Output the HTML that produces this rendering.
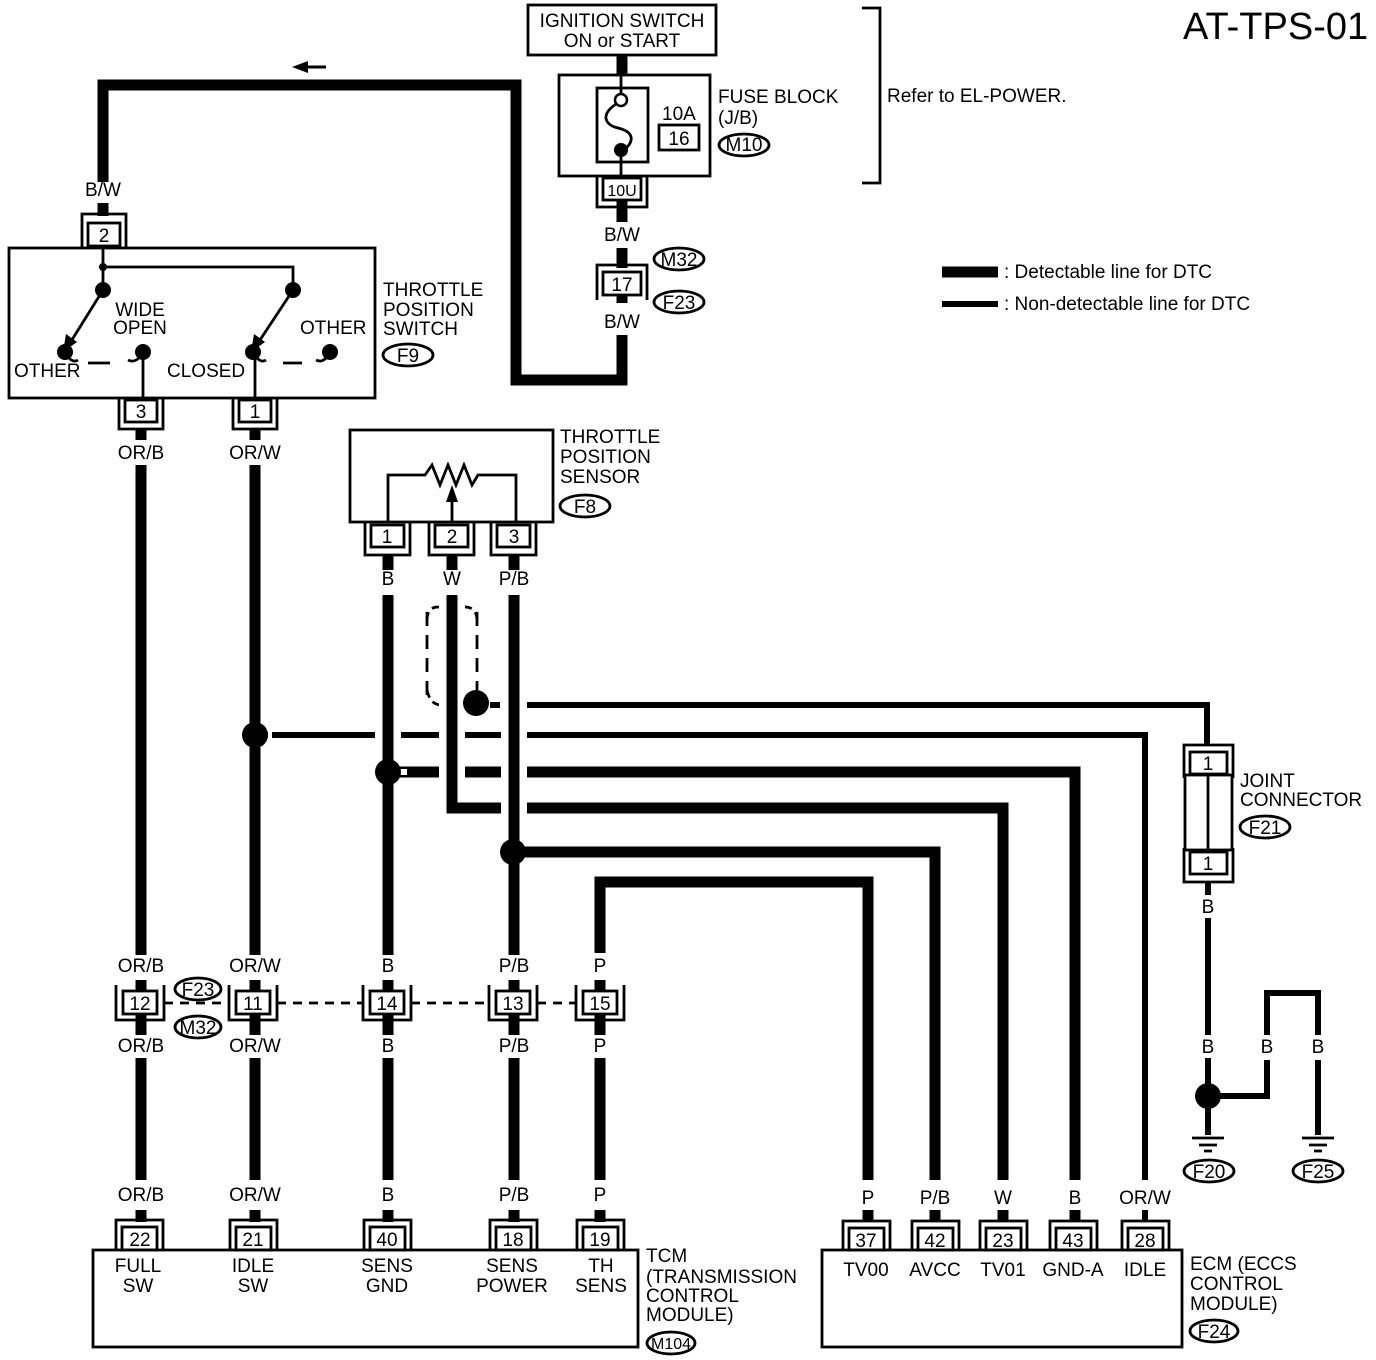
<!DOCTYPE html>
<html><head><meta charset="utf-8"><style>
html,body{margin:0;padding:0;background:#fff}
svg{display:block}
text{font-family:"Liberation Sans",sans-serif;font-size:19px;fill:#000}
.c{text-anchor:middle}
</style></head><body>
<svg width="1376" height="1360" viewBox="0 0 1376 1360" xmlns="http://www.w3.org/2000/svg">
<g fill="none" stroke="#000" stroke-width="2.8">
<rect x="528" y="5" width="188" height="50"/>
<rect x="559" y="75" width="151" height="101"/>
<rect x="597" y="88" width="51" height="74"/>
<line x1="621" y1="75" x2="621" y2="94"/><line x1="621" y1="156" x2="621" y2="176"/>
<path d="M616,104 C600,115 605,125 618,128 C635,132 634,142 624,150"/>
<rect x="659" y="125" width="40" height="25"/>
<path d="M862,8 H880 V183 H862"/>
<rect x="603" y="178" width="38" height="22"/>
<path d="M597,176 V207 H647 V176"/>
<rect x="603" y="272" width="38" height="23"/>
<path d="M597,300 V265 H647 V300"/>
<ellipse cx="679" cy="259" rx="25" ry="11"/><ellipse cx="679" cy="302" rx="25" ry="11"/>
<ellipse cx="744" cy="145" rx="25" ry="11"/>
<rect x="9" y="248" width="366" height="150"/>
<rect x="88" y="223" width="32" height="23"/>
<path d="M82,248 V214 H126 V248"/>
<path d="M103,246 V290 M103,267 H293 V290"/>
<path d="M143,352 V398 M255,352 V398"/>
<path d="M88,363 H110 M283,363 H302"/>
<path d="M143,352 C138,362 132,362 128,360 M330,352 C325,362 320,362 316,360 M65,352 C70,362 75,362 78,360 M253,352 C258,362 263,362 266,360"/>
<line x1="103" y1="290" x2="70" y2="343"/><line x1="293" y1="290" x2="258" y2="343"/>
<rect x="125" y="400" width="32" height="22"/><path d="M119,398 V429 H163 V398"/>
<rect x="239" y="400" width="32" height="22"/><path d="M233,398 V429 H277 V398"/>
<ellipse cx="408" cy="355" rx="25" ry="11"/>
<rect x="350" y="430" width="203" height="92"/>
<path d="M388,522 V475 H425 L432,465 L440,485 L448,465 L456,485 L464,465 L472,485 L478,475 H516 V522"/>
<line x1="452" y1="522" x2="452" y2="492"/>
<rect x="371" y="525" width="33" height="22"/><path d="M365,523 V555 H410 V523"/>
<rect x="435" y="525" width="33" height="22"/><path d="M429,523 V555 H474 V523"/>
<rect x="497" y="525" width="33" height="22"/><path d="M491,523 V555 H536 V523"/>
<ellipse cx="585" cy="506" rx="25" ry="11"/>
<path d="M427,612 V700 M477,612 V690" stroke-dasharray="14,9"/>
<path d="M427,620 C427,605 440,605 445,610 M477,620 C477,605 462,605 457,610 M427,690 C430,705 440,707 446,703" stroke-dasharray="8,5"/>
<rect x="123" y="991" width="34" height="23"/><path d="M116,985 V1020 H164 V985"/>
<rect x="236" y="991" width="34" height="23"/><path d="M229,985 V1020 H277 V985"/>
<rect x="370" y="991" width="34" height="23"/><path d="M363,985 V1020 H411 V985"/>
<rect x="496" y="991" width="34" height="23"/><path d="M489,985 V1020 H537 V985"/>
<rect x="583" y="991" width="34" height="23"/><path d="M576,985 V1020 H624 V985"/>
<path d="M164,1003 H229 M277,1003 H363 M411,1003 H489 M537,1003 H576" stroke-dasharray="9,7"/>
<ellipse cx="198" cy="989" rx="23" ry="11"/><ellipse cx="198" cy="1027" rx="23" ry="11"/>
<rect x="93" y="1250" width="545" height="97"/>
<rect x="122" y="1227" width="35" height="23"/><path d="M116,1250 V1220 H163 V1250"/>
<rect x="236" y="1227" width="35" height="23"/><path d="M230,1250 V1220 H277 V1250"/>
<rect x="370" y="1227" width="35" height="23"/><path d="M364,1250 V1220 H411 V1250"/>
<rect x="496" y="1227" width="35" height="23"/><path d="M490,1250 V1220 H537 V1250"/>
<rect x="583" y="1227" width="35" height="23"/><path d="M577,1250 V1220 H624 V1250"/>
<ellipse cx="671" cy="1343" rx="24" ry="11"/>
<rect x="822" y="1250" width="360" height="97"/>
<rect x="849" y="1228" width="35" height="22"/><path d="M843,1250 V1221 H890 V1250"/>
<rect x="918" y="1228" width="35" height="22"/><path d="M912,1250 V1221 H959 V1250"/>
<rect x="986" y="1228" width="35" height="22"/><path d="M980,1250 V1221 H1027 V1250"/>
<rect x="1056" y="1228" width="35" height="22"/><path d="M1050,1250 V1221 H1097 V1250"/>
<rect x="1128" y="1228" width="35" height="22"/><path d="M1122,1250 V1221 H1169 V1250"/>
<ellipse cx="1214" cy="1331" rx="24" ry="11"/>
<rect x="1190" y="752" width="37" height="22"/><path d="M1184,778 V745 H1233 V778"/>
<rect x="1185" y="775" width="47" height="75"/><line x1="1208" y1="775" x2="1208" y2="850"/>
<rect x="1190" y="852" width="37" height="22"/><path d="M1184,848 V882 H1233 V848"/>
<ellipse cx="1265" cy="827" rx="25" ry="11"/>
<ellipse cx="1209" cy="1171" rx="25" ry="11"/><ellipse cx="1318" cy="1171" rx="25" ry="11"/>
<path d="M1192,1138 H1224 M1199,1145 H1217 M1204,1151 H1212 M1302,1138 H1334 M1309,1145 H1327 M1314,1151 H1322"/>
</g>
<g fill="none" stroke="#000" stroke-width="11">
<path d="M622,55 V75 M622,200 V222 M622,248 V268 M622,296 V303"/>
<path d="M622,335 V380 H516 V85 H103 V182 M103,203 V216"/>
<path d="M141,429 V440 M141,465 V955 M141,1014 V1035 M141,1058 V1180 M141,1210 V1222"/>
<path d="M255,429 V440 M255,465 V955 M255,1014 V1035 M255,1058 V1180 M255,1210 V1222"/>
<path d="M388,555 V570 M452,555 V570 M514,555 V570"/>
<path d="M388,772 H1075 V1180 M1075,1210 V1222"/>
<path d="M452,595 V808 H1003 V1180 M1003,1210 V1222"/>
<path d="M513,852 H935 V1180 M935,1210 V1222"/>
<path d="M600,953 V882 H868 V1180 M868,1210 V1222"/>
<path d="M942,272 H998"/>
</g>
<g fill="none" stroke="#000" stroke-width="6">
<path d="M255,735 H1145 V1180 M1145,1210 V1222"/>
<path d="M527,705 H1207 V745 M490,705 H500"/>
<path d="M942,304 H998"/>
<path d="M1208,882 V895 M1208,918 V1035 M1208,1058 V1135 M1208,1096 H1267 V1060 M1267,1035 V993 H1318 V1035 M1318,1060 V1135"/>
</g>
<g fill="none" stroke="#fff" stroke-width="26">
<path d="M388,590 V765 M388,780 V955"/>
<path d="M452,600 V800"/>
<path d="M514,600 V840"/>
</g>
<g fill="none" stroke="#fff" stroke-width="6"><path d="M268,735 H272 M400,772 H407"/></g>
<g fill="none" stroke="#000" stroke-width="11">
<path d="M388,595 V955 M388,1014 V1035 M388,1058 V1180 M388,1210 V1222"/>
<path d="M452,595 V808"/>
<path d="M514,595 V955 M514,1014 V1035 M514,1058 V1180 M514,1210 V1222"/>
<path d="M600,980 V991 M600,1014 V1035 M600,1058 V1180 M600,1210 V1222"/>
<path d="M141,980 V991 M255,980 V991 M388,980 V991 M514,980 V991"/>
</g>
<g fill="#000">
<circle cx="255" cy="735" r="13"/><circle cx="388" cy="772" r="13"/><circle cx="476" cy="703" r="13"/>
<circle cx="513" cy="852" r="13"/><circle cx="1208" cy="1096" r="13"/>
<circle cx="103" cy="267" r="4"/><circle cx="103" cy="290" r="8"/><circle cx="293" cy="290" r="8"/>
<circle cx="65" cy="352" r="8"/><circle cx="143" cy="352" r="8"/><circle cx="253" cy="352" r="8"/><circle cx="330" cy="352" r="8"/>
<circle cx="621" cy="150" r="7"/>
<polygon points="63,352 66,334 77,342"/><polygon points="251,352 254,334 265,342"/>
<polygon points="452,485 446,502 458,502"/>
<polygon points="292,67 308,61 308,73"/>
</g>
<circle cx="621" cy="100" r="6" fill="#fff" stroke="#000" stroke-width="2.5"/>
<line x1="306" y1="67" x2="326" y2="67" stroke="#000" stroke-width="3"/>
<text x="1183" y="39" style="font-size:38px">AT-TPS-01</text>
<text class="c" x="622" y="27">IGNITION SWITCH</text>
<text class="c" x="622" y="47">ON or START</text>
<text x="662" y="120">10A</text><text class="c" x="679" y="145">16</text>
<text x="718" y="103">FUSE BLOCK</text><text x="718" y="124">(J/B)</text><text class="c" x="744" y="151">M10</text>
<text x="887" y="102">Refer to EL-POWER.</text>
<text class="c" x="622" y="196" style="font-size:16px">10U</text>
<text class="c" x="622" y="241">B/W</text>
<text class="c" x="622" y="291">17</text>
<text class="c" x="679" y="266">M32</text><text class="c" x="679" y="309">F23</text>
<text class="c" x="622" y="328">B/W</text>
<text x="1004" y="278">: Detectable line for DTC</text>
<text x="1004" y="310">: Non-detectable line for DTC</text>
<text class="c" x="103" y="196">B/W</text>
<text class="c" x="104" y="242">2</text>
<text class="c" x="140" y="316">WIDE</text><text class="c" x="140" y="334">OPEN</text>
<text x="14" y="377">OTHER</text><text x="167" y="377">CLOSED</text><text x="300" y="334">OTHER</text>
<text x="383" y="296">THROTTLE</text><text x="383" y="316">POSITION</text><text x="383" y="335">SWITCH</text>
<text class="c" x="408" y="362">F9</text>
<text class="c" x="141" y="418">3</text><text class="c" x="255" y="418">1</text>
<text class="c" x="141" y="459">OR/B</text><text class="c" x="255" y="459">OR/W</text>
<text x="560" y="443">THROTTLE</text><text x="560" y="463">POSITION</text><text x="560" y="483">SENSOR</text>
<text class="c" x="585" y="513">F8</text>
<text class="c" x="387" y="543">1</text><text class="c" x="452" y="543">2</text><text class="c" x="514" y="543">3</text>
<text class="c" x="388" y="585">B</text><text class="c" x="452" y="585">W</text><text class="c" x="514" y="585">P/B</text>
<text x="1240" y="787">JOINT</text><text x="1240" y="806">CONNECTOR</text>
<text class="c" x="1265" y="834">F21</text>
<text class="c" x="1208" y="770">1</text><text class="c" x="1208" y="870">1</text>
<text class="c" x="1208" y="913">B</text><text class="c" x="1208" y="1053">B</text>
<text class="c" x="1267" y="1053">B</text><text class="c" x="1318" y="1053">B</text>
<text class="c" x="1209" y="1178">F20</text><text class="c" x="1318" y="1178">F25</text>
<text class="c" x="141" y="972">OR/B</text><text class="c" x="255" y="972">OR/W</text>
<text class="c" x="388" y="972">B</text><text class="c" x="514" y="972">P/B</text><text class="c" x="600" y="972">P</text>
<text class="c" x="140" y="1010">12</text><text class="c" x="253" y="1010">11</text><text class="c" x="387" y="1010">14</text>
<text class="c" x="513" y="1010">13</text><text class="c" x="600" y="1010">15</text>
<text class="c" x="198" y="996">F23</text><text class="c" x="198" y="1034">M32</text>
<text class="c" x="141" y="1052">OR/B</text><text class="c" x="255" y="1052">OR/W</text>
<text class="c" x="388" y="1052">B</text><text class="c" x="514" y="1052">P/B</text><text class="c" x="600" y="1052">P</text>
<text class="c" x="141" y="1201">OR/B</text><text class="c" x="255" y="1201">OR/W</text>
<text class="c" x="388" y="1201">B</text><text class="c" x="514" y="1201">P/B</text><text class="c" x="600" y="1201">P</text>
<text class="c" x="140" y="1246">22</text><text class="c" x="253" y="1246">21</text><text class="c" x="387" y="1246">40</text>
<text class="c" x="513" y="1246">18</text><text class="c" x="600" y="1246">19</text>
<text class="c" x="138" y="1272">FULL</text><text class="c" x="138" y="1292">SW</text>
<text class="c" x="253" y="1272">IDLE</text><text class="c" x="253" y="1292">SW</text>
<text class="c" x="387" y="1272">SENS</text><text class="c" x="387" y="1292">GND</text>
<text class="c" x="512" y="1272">SENS</text><text class="c" x="512" y="1292">POWER</text>
<text class="c" x="601" y="1272">TH</text><text class="c" x="601" y="1292">SENS</text>
<text x="646" y="1262">TCM</text><text x="646" y="1283">(TRANSMISSION</text><text x="646" y="1302">CONTROL</text><text x="646" y="1321">MODULE)</text>
<text class="c" x="671" y="1349" style="font-size:16px">M104</text>
<text class="c" x="868" y="1204">P</text><text class="c" x="935" y="1204">P/B</text><text class="c" x="1003" y="1204">W</text>
<text class="c" x="1075" y="1204">B</text><text class="c" x="1145" y="1204">OR/W</text>
<text class="c" x="866" y="1247">37</text><text class="c" x="935" y="1247">42</text><text class="c" x="1003" y="1247">23</text>
<text class="c" x="1073" y="1247">43</text><text class="c" x="1145" y="1247">28</text>
<text class="c" x="866" y="1276">TV00</text><text class="c" x="935" y="1276">AVCC</text><text class="c" x="1003" y="1276">TV01</text>
<text class="c" x="1073" y="1276">GND-A</text><text class="c" x="1145" y="1276">IDLE</text>
<text x="1190" y="1270">ECM (ECCS</text><text x="1190" y="1290">CONTROL</text><text x="1190" y="1310">MODULE)</text>
<text class="c" x="1214" y="1338">F24</text>
</svg>
</body></html>
